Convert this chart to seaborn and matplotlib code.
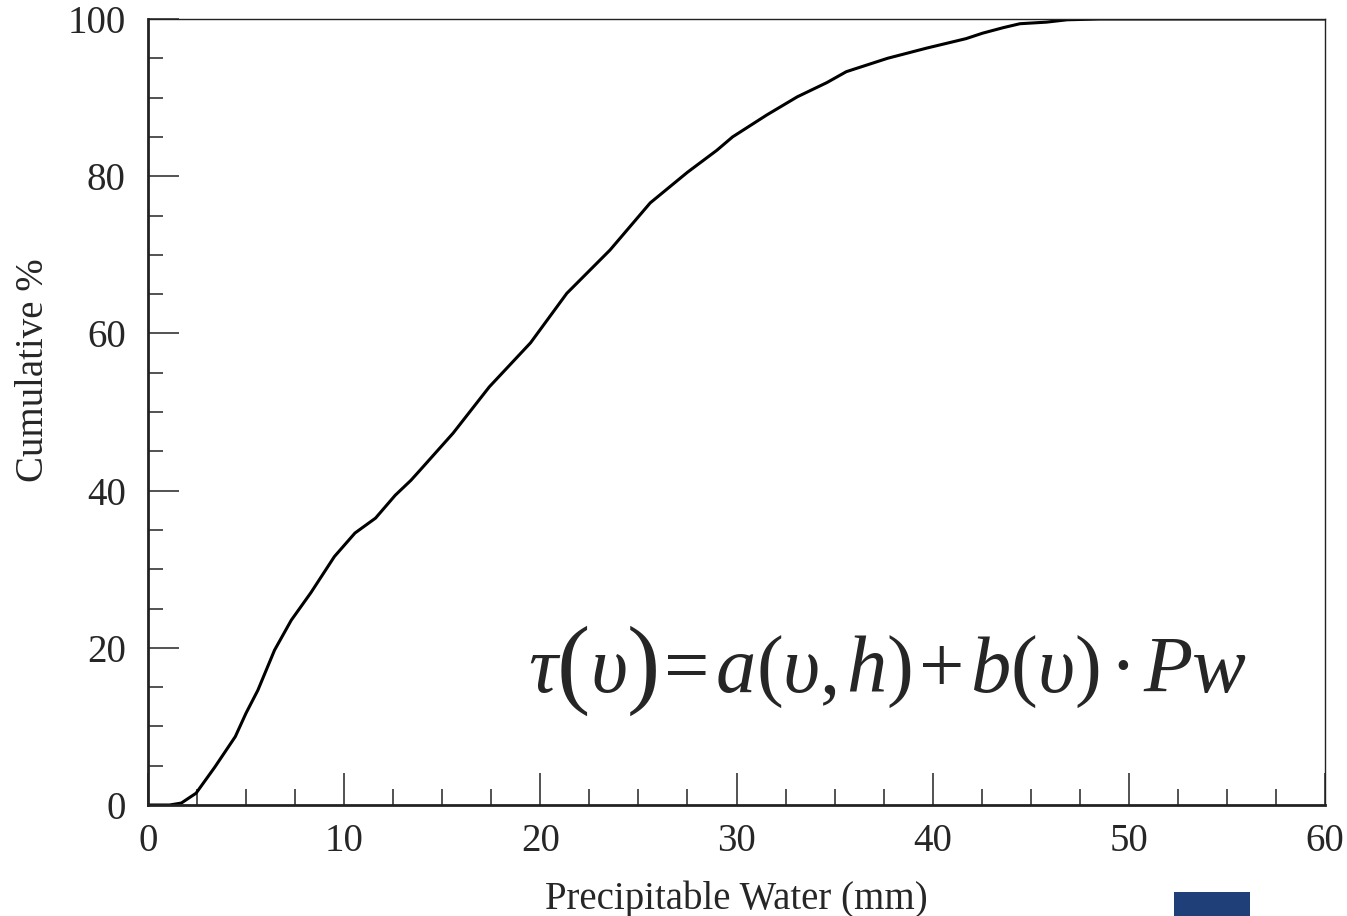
import matplotlib
matplotlib.use("Agg")
import matplotlib.pyplot as plt
import seaborn as sns
import pandas as pd
from matplotlib.ticker import MultipleLocator
from matplotlib.patches import Rectangle

# Data
precip_water = [0.0, 0.5, 1.1, 1.7, 2.45, 3.4, 4.45, 5.0, 5.6, 6.45, 7.3, 8.3, 9.5,
                10.55, 11.6, 12.6, 13.4, 13.87, 15.55, 17.4, 19.5, 21.35, 23.55,
                25.6, 27.5, 29.0, 29.8, 31.55, 33.1, 34.6, 35.6, 37.7, 39.7, 41.7,
                42.55, 43.6, 44.45, 45.8, 46.85, 48.5, 60.0]
cumulative = [0.0, 0.0, 0.0, 0.25, 1.5, 4.8, 8.7, 11.7, 14.6, 19.7, 23.5, 27.0, 31.6,
              34.6, 36.5, 39.4, 41.3, 42.6, 47.3, 53.2, 58.8, 65.1, 70.6,
              76.6, 80.5, 83.3, 85.0, 87.8, 90.1, 91.9, 93.3, 95.0, 96.3, 97.5,
              98.2, 98.9, 99.4, 99.6, 99.9, 100.0, 100.0]
x_ticks = [0, 10, 20, 30, 40, 50, 60]
y_ticks = [0, 20, 40, 60, 80, 100]

sns.set_style("ticks")
plt.rcParams['font.family'] = ['Liberation Serif', 'DejaVu Serif']

df = pd.DataFrame({"pw": precip_water, "cum": cumulative})

W, H = 1347, 916
fig = plt.figure(figsize=(W/100, H/100), dpi=100)
ax = fig.add_axes([148/W, 1 - 805/H, (1325-148)/W, (805-19)/H])

sns.lineplot(data=df, x="pw", y="cum", ax=ax, color="black", linewidth=2.2)

ax.set_xlim(0, 60)
ax.set_ylim(0, 100)
ax.set_xticks(x_ticks)
ax.set_yticks(y_ticks)
ax.xaxis.set_minor_locator(MultipleLocator(2.5))
ax.yaxis.set_minor_locator(MultipleLocator(5))
tc = '#444444'
ax.tick_params(axis='x', which='major', direction='in', length=23, width=1.3,
               labelsize=28, pad=13, color=tc)
ax.tick_params(axis='x', which='minor', direction='in', length=11.5, width=1.3, color=tc)
ax.tick_params(axis='y', which='major', direction='in', length=22, width=1.3,
               labelsize=28, pad=16, color=tc)
ax.tick_params(axis='y', which='minor', direction='in', length=11, width=1.3, color=tc)

for s in ['left', 'bottom']:
    ax.spines[s].set_linewidth(2.0)
    ax.spines[s].set_color('#222222')
for s in ['top', 'right']:
    ax.spines[s].set_visible(True)
    ax.spines[s].set_linewidth(1.0)
    ax.spines[s].set_color('#222222')

ax.set_xlabel("Precipitable Water (mm)", fontsize=28, labelpad=15)
ax.set_ylabel("Cumulative %", fontsize=28)
ax.yaxis.set_label_coords((52 - 148) / 1177, (805 - 370) / 786)

# Formula drawn as sequential text pieces
fig.canvas.draw()
renderer = fig.canvas.get_renderer()
fs, bigfs = 58, 72
pieces = [("τ", 'italic', fs, 0), ("(", 'normal', bigfs, 0), ("υ", 'italic', fs, 0),
          (")", 'normal', bigfs, 4), ("=", 'normal', fs, 6),
          ("a", 'italic', fs, 0), ("(", 'normal', fs, 0), ("υ", 'italic', fs, 0),
          (",", 'normal', fs, 6), ("h", 'italic', fs, 0), (")", 'normal', fs, 6),
          ("+", 'normal', fs, 6), ("b", 'italic', fs, 0), ("(", 'normal', fs, 0),
          ("υ", 'italic', fs, 0), (")", 'normal', fs, 8), ("·", 'normal', fs, 8),
          ("Pw", 'italic', fs, 0)]
xpix, base = 528, H - 692
for txt, style, size, gap in pieces:
    yb = base - (size - fs) * 0.22 if size != fs else base
    t = fig.text(xpix / W, yb / H, txt, fontsize=size, fontstyle=style,
                 ha='left', va='baseline')
    bb = t.get_window_extent(renderer)
    xpix = bb.x1 + gap

# partial logo at bottom-right corner
fig.patches.append(Rectangle((1174/W, 0), 76/W, 24/H, transform=fig.transFigure,
                             facecolor='#1f3f78', edgecolor='none'))

fig.savefig("out.png", dpi=100)
